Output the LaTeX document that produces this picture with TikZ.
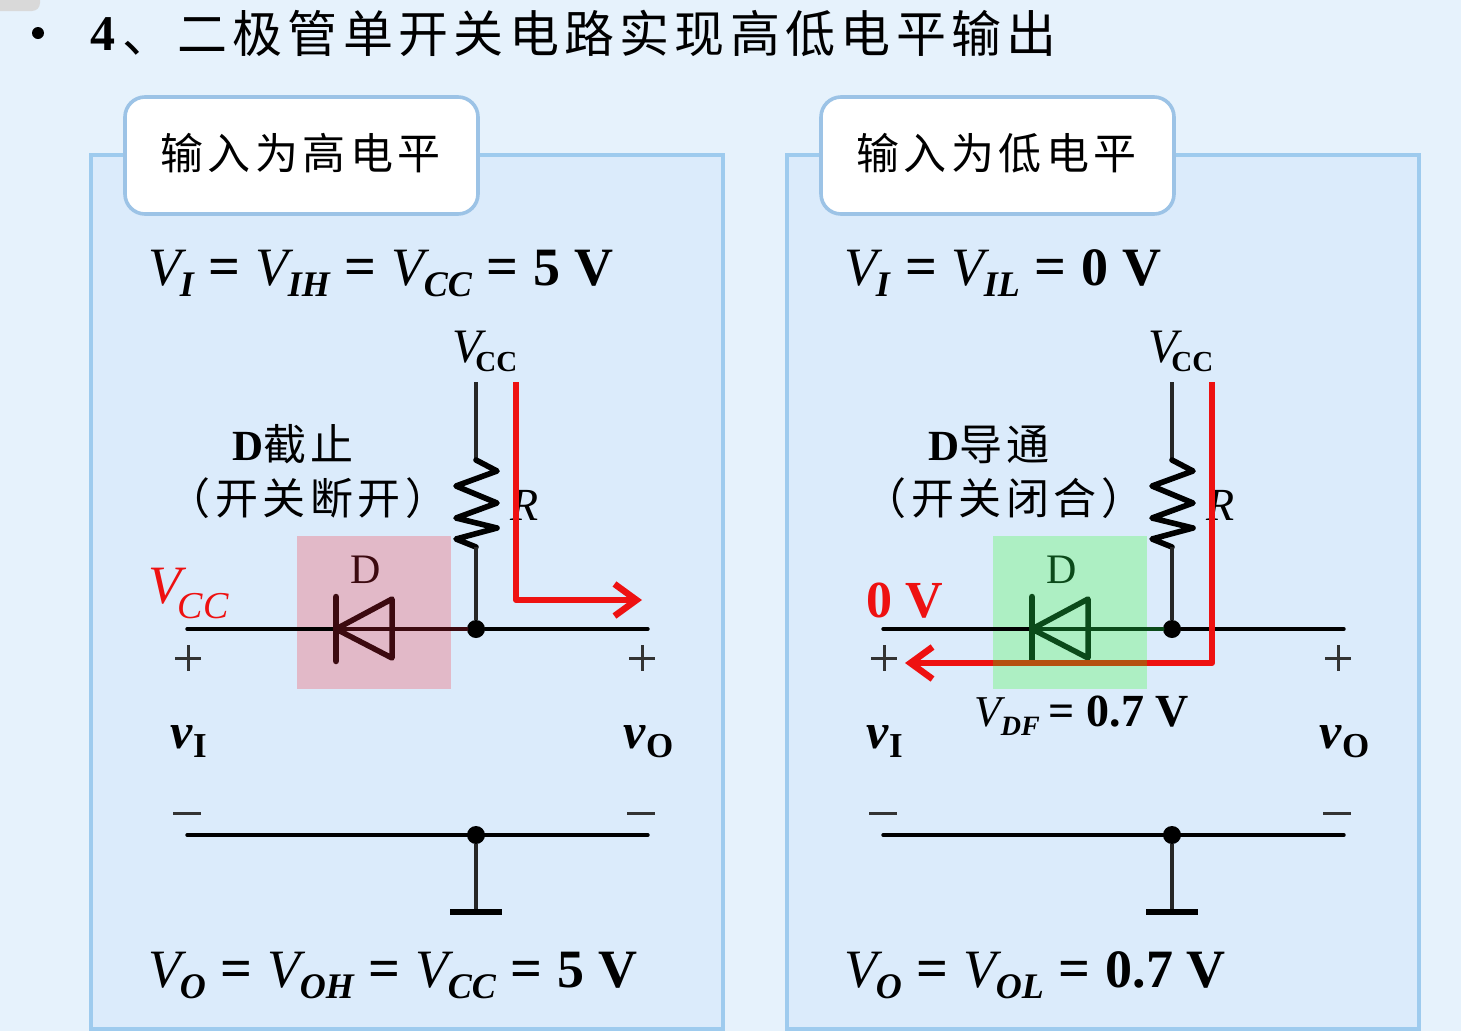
\documentclass[tikz,border=0pt]{standalone}
\usepackage{fontspec}
\setmainfont{Liberation Serif}
\newfontfamily\cjk[LetterSpace=10.6]{Noto Sans CJK SC}
\usetikzlibrary{arrows.meta}
\definecolor{pagebg}{HTML}{E6F2FC}
\definecolor{panelbg}{HTML}{DBEBFB}
\definecolor{panelline}{HTML}{9ECBEE}
\definecolor{tabline}{HTML}{9CC3E6}
\definecolor{redflow}{HTML}{EE1111}
\definecolor{pinkbox}{HTML}{E2B9C8}
\definecolor{greenbox}{HTML}{ADEFC3}
\definecolor{darkred}{HTML}{3C0A10}
\definecolor{darkgreen}{HTML}{0B4A1A}
\definecolor{brownflow}{HTML}{B5500F}
\newcommand{\fs}[1]{\fontsize{#1}{#1}\selectfont}
\newcommand{\VV}[1]{{\fs{54}\itshape V}\kern-1pt\raisebox{-11pt}{\fs{36}\bfseries\itshape #1}}
\newcommand{\EQ}{\kern15pt{\fs{56}\bfseries=}\kern15pt}
\newcommand{\VCCtop}{\fs{48}\itshape V\kern-6pt\raisebox{-9pt}{\fs{29}\bfseries\upshape CC}}
\newcommand{\smallv}[1]{\fs{50}\bfseries\itshape v\kern1pt\raisebox{-9pt}{\fs{35}\upshape #1}}
\tikzset{
  x=1pt,y=-1pt,
  txt/.style={inner sep=0pt,outer sep=0pt,anchor=base west,text=black},
  mid/.style={inner sep=0pt,outer sep=0pt,anchor=base,text=black},
  panelbox/.style={draw=panelline,line width=3.6pt,fill=panelbg},
  tabbox/.style={draw=tabline,line width=3.6pt,fill=white,rounded corners=20pt},
  wire/.style={line width=3.4pt,black,line cap=round},
  thinwire/.style={line width=3.2pt,black!85},
  flow/.style={line width=6pt,redflow,line join=round,-{Straight Barb[length=22pt,width=32pt,line width=6.5pt]}},
  dot/.style={circle,fill=black,inner sep=0pt,minimum size=18pt},
  rzig/.style={line width=5.6pt,black,line join=round,line cap=round},
  bar/.style={line width=6.5pt,line cap=round},
  tri/.style={line width=5.5pt,line join=round},
  sign/.style={line width=3pt,black!80},
}
\begin{document}
\begin{tikzpicture}
\useasboundingbox (0,0) rectangle (1461,1031);
\fill[pagebg] (0,0) rectangle (1461,1031);
\fill[black!15,rounded corners=8pt] (-20,-20) rectangle (40,11);
% heading
\fill[black] (38,33) circle (6pt);
\node[txt] (num) at (90,50) {\fs{50}\bfseries 4};
\node[txt] (head) at (122,52) {\fs{50}\cjk 、二极管单开关电路实现高低电平输出};

% ---------- left panel
\draw[panelbox] (91,155) rectangle (723,1029);
\node[txt] (leq1) at (148,285) {\VV{I}\EQ\VV{IH}\EQ\VV{CC}\EQ{\fs{54}\bfseries 5 V}};
\node[txt] (leq2) at (148,987) {\VV{O}\EQ\VV{OH}\EQ\VV{CC}\EQ{\fs{54}\bfseries 5 V}};
\draw[tabbox] (125,97) rectangle (478,214);
\node[txt] (ltab) at (160,169) {\fs{43}\cjk 输入为高电平};
\fill[pinkbox] (297,536) rectangle (451,689);
\coordinate (lvcc) at (476,382);
\coordinate (lrt) at (476,460);
\coordinate (lrb) at (476,547);
\coordinate (lin) at (187,629);
\coordinate (lout) at (648,629);
\coordinate (lgl) at (187,835);
\coordinate (lgr) at (648,835);
\coordinate (lgnd) at (476,912);
\coordinate (lgbl) at (450,912);
\coordinate (lgbr) at (502,912);
\coordinate (lca) at (336,629);
\coordinate (lan) at (392,629);
\coordinate (lr1) at (516,382);
\coordinate (lr2) at (516,600);
\coordinate (lr3) at (642,600);
\node[dot] (lj1) at (476,629) {};
\node[dot] (lj2) at (476,835) {};
\draw[thinwire] (lvcc) -- (lrt);
\draw[rzig] (lrt) -- ++(21,11) -- ++(-41,15) -- ++(41,17) -- ++(-41,15) -- ++(41,10) -- ++(-41,11) -- (lrb);
\draw[thinwire] (lrb) -- (lj1);
\draw[wire] (lin) -- (lca);
\draw[wire] (lj1) -- (lout);
\draw[wire,darkred] (lca) -- (lan) -- (lj1);
\draw[wire] (lgl) -- (lgr);
\draw[thinwire] (lj2) -- (lgnd);
\draw[line width=6pt,black] (lgbl) -- (lgbr);
\draw[bar,darkred] (336,597) -- (336,661);
\draw[tri,darkred] (lca) -- (392,599) -- (392,658) -- cycle;
\node[txt] (lrl) at (510,520) {\fs{46}\itshape R};
\draw[flow] (lr1) -- (lr2) -- (lr3);
\node[mid] (ld) at (366,583) {\fs{42}\color{darkred} D};
\node[txt] (lvt) at (452,362) {\VCCtop};
\node[mid] (lst1) at (293,460) {\fs{43}\bfseries D{\mdseries\cjk 截止}};
\node[mid] (lst2) at (308,514) {\fs{43}\cjk （开关断开）};
\node[txt] (lvin) at (148,603) {\textcolor{redflow}{\fs{54}\itshape V\kern-3pt\raisebox{-15pt}{\fs{38}CC}}};
\draw[sign] (175,658) -- (201,658) (188,645) -- (188,671);
\draw[sign] (629,658) -- (655,658) (642,645) -- (642,671);
\draw[sign] (173,813) -- (201,813) (627,813) -- (655,813);
\node[txt] (lvi) at (170,748) {\smallv{I}};
\node[txt] (lvo) at (623,748) {\smallv{O}};

% ---------- right panel
\draw[panelbox] (787,155) rectangle (1419,1029);
\node[txt] (req1) at (844,285) {\VV{I}\EQ\VV{IL}\EQ{\fs{54}\bfseries 0 V}};
\node[txt] (req2) at (844,987) {\VV{O}\EQ\VV{OL}\EQ{\fs{54}\bfseries 0.7 V}};
\draw[tabbox] (821,97) rectangle (1174,214);
\node[txt] (rtab) at (856,169) {\fs{43}\cjk 输入为低电平};
\fill[greenbox] (993,536) rectangle (1147,689);
\coordinate (rvcc) at (1172,382);
\coordinate (rrt) at (1172,460);
\coordinate (rrb) at (1172,547);
\coordinate (rin) at (883,629);
\coordinate (rout) at (1344,629);
\coordinate (rgl) at (883,835);
\coordinate (rgr) at (1344,835);
\coordinate (rgnd) at (1172,912);
\coordinate (rgbl) at (1146,912);
\coordinate (rgbr) at (1198,912);
\coordinate (rca) at (1032,629);
\coordinate (ran) at (1088,629);
\coordinate (rr1) at (1212,382);
\coordinate (rr2) at (1212,663);
\coordinate (rr3) at (905,663);
\coordinate (rg1) at (1147,663);
\coordinate (rg2) at (993,663);
\node[dot] (rj1) at (1172,629) {};
\node[dot] (rj2) at (1172,835) {};
\draw[thinwire] (rvcc) -- (rrt);
\draw[rzig] (rrt) -- ++(21,11) -- ++(-41,15) -- ++(41,17) -- ++(-41,15) -- ++(41,10) -- ++(-41,11) -- (rrb);
\draw[thinwire] (rrb) -- (rj1);
\draw[wire] (rin) -- (rca);
\draw[wire] (rj1) -- (rout);
\draw[wire,darkgreen] (rca) -- (ran) -- (rj1);
\draw[wire] (rgl) -- (rgr);
\draw[thinwire] (rj2) -- (rgnd);
\draw[line width=6pt,black] (rgbl) -- (rgbr);
\draw[bar,darkgreen] (1032,597) -- (1032,661);
\draw[tri,darkgreen] (rca) -- (1088,599) -- (1088,658) -- cycle;
\node[txt] (rrl) at (1206,520) {\fs{46}\itshape R};
\draw[flow] (rr1) -- (rr2) -- (rr3);
\draw[line width=6pt,brownflow] (rg1) -- (rg2);
\node[mid] (rd) at (1062,583) {\fs{42}\color{darkgreen} D};
\node[txt] (rvt) at (1148,362) {\VCCtop};
\node[mid] (rst1) at (989,460) {\fs{43}\bfseries D{\mdseries\cjk 导通}};
\node[mid] (rst2) at (1004,514) {\fs{43}\cjk （开关闭合）};
\node[txt] (rvin) at (866,617) {\textcolor{redflow}{\fs{52}\bfseries 0 V}};
\node[txt] (rvdf) at (974,726) {{\fs{44}\itshape V}\raisebox{-9pt}{\fs{28}\bfseries\itshape DF}\kern9pt{\fs{46}\bfseries= 0.7 V}};
\draw[sign] (871,658) -- (897,658) (884,645) -- (884,671);
\draw[sign] (1325,658) -- (1351,658) (1338,645) -- (1338,671);
\draw[sign] (869,813) -- (897,813) (1323,813) -- (1351,813);
\node[txt] (rvi) at (866,748) {\smallv{I}};
\node[txt] (rvo) at (1319,748) {\smallv{O}};
\end{tikzpicture}
\end{document}
